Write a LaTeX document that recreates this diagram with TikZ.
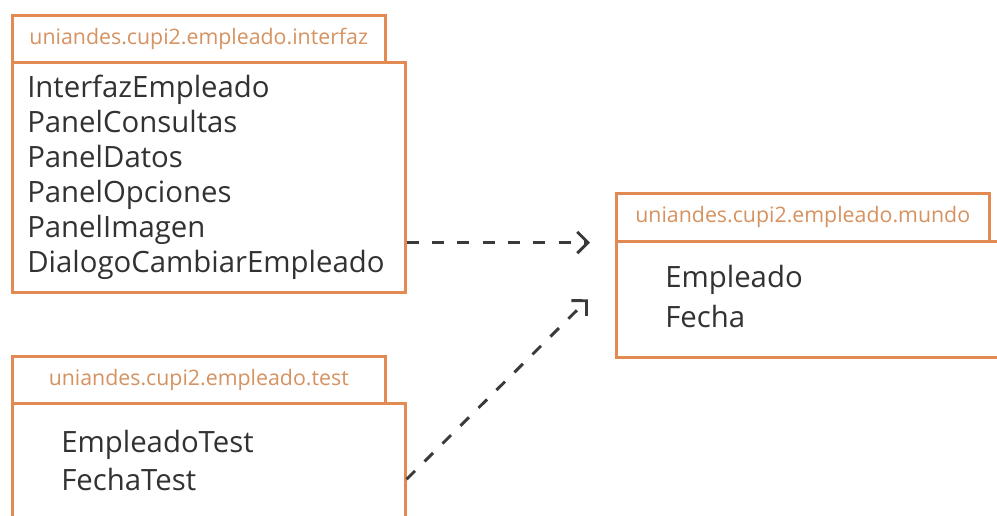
\documentclass[tikz,border=0pt]{standalone}
\usepackage{fontspec}
\setmainfont{Open Sans}
\usetikzlibrary{arrows.meta}
\definecolor{boxc}{RGB}{226,138,82}
\definecolor{tabtext}{RGB}{214,146,96}
\definecolor{txt}{RGB}{50,50,50}
\definecolor{arr}{RGB}{58,58,58}
\begin{document}
\begin{tikzpicture}[x=0.75pt,y=-0.75pt,
  pkg/.style={draw=boxc, line width=1.9pt, fill=white, inner sep=0pt, anchor=north west},
  tabtxt/.style={text=tabtext, font=\fontsize{16}{18}\selectfont, inner sep=0pt},
  items/.style={text=txt, font=\fontsize{22}{26.25}\selectfont, align=left, anchor=base west, inner sep=0pt},
  dep/.style={draw=arr, line width=2.2pt, dash pattern=on 9pt off 10pt, -{Straight Barb[length=8pt,width=16pt]}}]
\useasboundingbox (0,0) rectangle (997,515);
% interfaz
\node[pkg, minimum width=279.75pt, minimum height=35.25pt] (t1) at (11,14) {};
\node[pkg, minimum width=294.75pt, minimum height=172.5pt] (b1) at (11,61) {};
\node[tabtxt] (l1) at (t1.center) {uniandes.cupi2.empleado.interfaz};
\node[items] (c1) at (27,272) {InterfazEmpleado\\PanelConsultas\\PanelDatos\\PanelOpciones\\PanelImagen\\DialogoCambiarEmpleado};
% mundo
\node[pkg, minimum width=279.75pt, minimum height=36pt] (mt) at (615,192) {};
\node[pkg, minimum width=296.25pt, minimum height=87pt] (mb) at (615,240) {};
\node[tabtxt] (lm) at (mt.center) {uniandes.cupi2.empleado.mundo};
\node[items, font=\fontsize{22}{30}\selectfont] (cm) at (665,327) {Empleado\\Fecha};
% test
\node[pkg, minimum width=279.75pt, minimum height=35.25pt] (t3) at (11,355) {};
\node[pkg, minimum width=294.75pt, minimum height=114pt] (b3) at (11,402) {};
\node[tabtxt] (l3) at (t3.center) {uniandes.cupi2.empleado.test};
\node[items, font=\fontsize{22}{28.5}\selectfont] (c3) at (61,490) {EmpleadoTest\\FechaTest};
% dependencies
\draw[dep] (b1.east |- mt.south) -- ([xshift=-18.75pt]mb.west |- mt.south);
\draw[dep] (b3.east) -- ([xshift=-20.25pt]mb.west);
\end{tikzpicture}
\end{document}
